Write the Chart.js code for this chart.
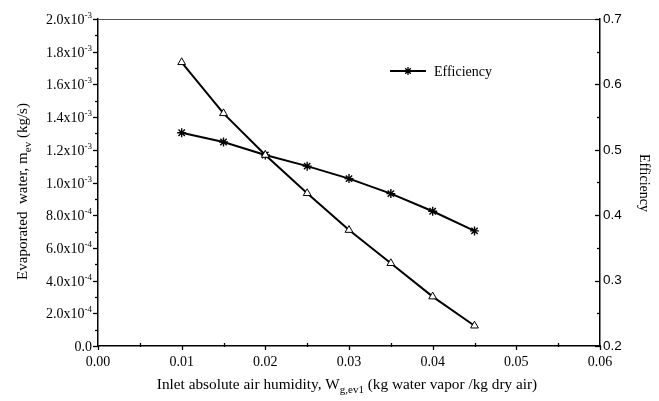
<!DOCTYPE html>
<html>
<head>
<meta charset="utf-8">
<script src="https://cdn.jsdelivr.net/npm/chart.js@4.4.1/dist/chart.umd.min.js"></script>
<style>
html,body{margin:0;padding:0;background:#fff;}
#wrap{width:659px;height:401px;position:relative;}
</style>
</head>
<body>
<div id="wrap"><canvas id="c" width="659" height="401"></canvas></div>
<script>
// ---- data ----
const humidity = [0.010, 0.015, 0.020, 0.025, 0.030, 0.035, 0.040, 0.045];
const evaporated = [1.735e-3, 1.423e-3, 1.168e-3, 0.934e-3, 0.709e-3, 0.506e-3, 0.302e-3, 0.124e-3];
const efficiency = [0.526, 0.512, 0.492, 0.475, 0.456, 0.433, 0.406, 0.376];

const xTickValues = [0, 0.01, 0.02, 0.03, 0.04, 0.05, 0.06];
const xTickLabels = ["0.00", "0.01", "0.02", "0.03", "0.04", "0.05", "0.06"];
const leftTickValues = [0, 2e-4, 4e-4, 6e-4, 8e-4, 1.0e-3, 1.2e-3, 1.4e-3, 1.6e-3, 1.8e-3, 2.0e-3];
const leftTickMantissas = ["0.0", "2.0x10", "4.0x10", "6.0x10", "8.0x10", "1.0x10", "1.2x10", "1.4x10", "1.6x10", "1.8x10", "2.0x10"];
const leftTickExponents = ["", "-4", "-4", "-4", "-4", "-3", "-3", "-3", "-3", "-3", "-3"];
const rightTickValues = [0.2, 0.3, 0.4, 0.5, 0.6, 0.7];
const rightTickLabels = ["0.2", "0.3", "0.4", "0.5", "0.6", "0.7"];
const legendLabel = "Efficiency";

const SERIF = '"Liberation Serif", "Times New Roman", serif';
const SANS = '"Liberation Sans", Arial, sans-serif';

function richWidth(ctx, parts) {
  let w = 0;
  for (const p of parts) { ctx.font = p.size + 'px ' + SERIF; w += ctx.measureText(p.t).width; }
  return w;
}
function drawRich(ctx, parts, x, y, align) {
  const w = richWidth(ctx, parts);
  let cx = align === 'right' ? x - w : (align === 'center' ? x - w / 2 : x);
  ctx.textAlign = 'left';
  ctx.textBaseline = 'alphabetic';
  for (const p of parts) {
    ctx.font = p.size + 'px ' + SERIF;
    ctx.fillText(p.t, cx, y + (p.dy || 0));
    cx += ctx.measureText(p.t).width;
  }
}

const decor = {
  id: 'decor',
  afterDraw(chart) {
    const ctx = chart.ctx;
    const a = chart.chartArea;
    const xs = chart.scales.x, ys = chart.scales.y, y1 = chart.scales.y1;
    ctx.save();
    ctx.fillStyle = '#000';
    // top border
    ctx.strokeStyle = '#555';
    ctx.lineWidth = 1;
    ctx.beginPath(); ctx.moveTo(a.left, a.top + 0.5); ctx.lineTo(a.right, a.top + 0.5); ctx.stroke();
    ctx.strokeStyle = '#000';
    ctx.lineWidth = 1.3;
    // x ticks
    for (let i = 0; i <= 12; i++) {
      const v = i * 0.005;
      const px = Math.round(xs.getPixelForValue(v)) + 0.5;
      ctx.beginPath();
      if (i % 2 === 0) { ctx.moveTo(px, a.bottom); ctx.lineTo(px, a.bottom + 4); }
      else { ctx.moveTo(px, a.bottom - 3); ctx.lineTo(px, a.bottom + 1); }
      ctx.stroke();
    }
    // left ticks
    for (let i = 0; i <= 20; i++) {
      const v = i * 1e-4;
      const py = Math.round(ys.getPixelForValue(v)) + 0.5;
      ctx.beginPath();
      ctx.moveTo(a.left, py); ctx.lineTo(a.left - (i % 2 === 0 ? 5 : 3), py);
      ctx.stroke();
    }
    // right ticks
    for (let i = 0; i <= 10; i++) {
      const v = 0.2 + i * 0.05;
      const py = Math.round(y1.getPixelForValue(v)) + 0.5;
      ctx.beginPath();
      ctx.moveTo(a.right, py); ctx.lineTo(a.right - (i % 2 === 0 ? 5 : 3), py);
      ctx.stroke();
    }
    // x tick labels
    ctx.font = '14px ' + SERIF;
    ctx.textAlign = 'center';
    ctx.textBaseline = 'alphabetic';
    xTickValues.forEach((v, i) => {
      ctx.fillText(xTickLabels[i], xs.getPixelForValue(v), a.bottom + 20);
    });
    // left tick labels
    leftTickValues.forEach((v, i) => {
      const py = ys.getPixelForValue(v);
      const parts = [{ t: leftTickMantissas[i], size: 14 }];
      if (leftTickExponents[i]) parts.push({ t: leftTickExponents[i], size: 9, dy: -6 });
      drawRich(ctx, parts, a.left - 6, py + 5, 'right');
    });
    // right tick labels
    ctx.font = '13.5px ' + SANS;
    ctx.textAlign = 'left';
    ctx.textBaseline = 'middle';
    rightTickValues.forEach((v, i) => {
      ctx.fillText(rightTickLabels[i], a.right + 3, y1.getPixelForValue(v));
    });
    // x title
    drawRich(ctx, [
      { t: 'Inlet absolute air humidity, W', size: 15.3 },
      { t: 'g,ev1', size: 11, dy: 4 },
      { t: ' (kg water vapor /kg dry air)', size: 15.3 }
    ], (a.left + a.right) / 2 - 2, 389, 'center');
    // left title
    ctx.save();
    ctx.translate(27, (a.top + a.bottom) / 2 + 9);
    ctx.rotate(-Math.PI / 2);
    drawRich(ctx, [
      { t: 'Evaporated  water, m', size: 15 },
      { t: 'ev', size: 11, dy: 4 },
      { t: ' (kg/s)', size: 15 }
    ], 0, 0, 'center');
    ctx.restore();
    // right title
    ctx.save();
    ctx.translate(640, 183);
    ctx.rotate(Math.PI / 2);
    drawRich(ctx, [{ t: 'Efficiency', size: 14 }], 0, 0, 'center');
    ctx.restore();
    // legend
    const lx = 390, ly = 71;
    ctx.lineWidth = 2;
    ctx.beginPath(); ctx.moveTo(lx, ly); ctx.lineTo(lx + 36, ly); ctx.stroke();
    ctx.lineWidth = 1.3;
    const r = 4;
    ctx.beginPath();
    for (let k = 0; k < 4; k++) {
      const ang = k * Math.PI / 4;
      ctx.moveTo(lx + 18 - r * Math.cos(ang), ly - r * Math.sin(ang));
      ctx.lineTo(lx + 18 + r * Math.cos(ang), ly + r * Math.sin(ang));
    }
    ctx.stroke();
    drawRich(ctx, [{ t: legendLabel, size: 14 }], lx + 44, ly + 5, 'left');
    ctx.restore();
  }
};

new Chart(document.getElementById('c'), {
  type: 'line',
  data: {
    datasets: [
      {
        label: 'Evaporated water',
        data: humidity.map((x, i) => ({ x: x, y: evaporated[i] })),
        yAxisID: 'y',
        borderColor: '#000',
        borderWidth: 2,
        pointStyle: 'triangle',
        pointRadius: 4.5,
        pointBackgroundColor: '#fff',
        pointBorderColor: '#000',
        pointBorderWidth: 1,
        tension: 0
      },
      {
        label: legendLabel,
        data: humidity.map((x, i) => ({ x: x, y: efficiency[i] })),
        yAxisID: 'y1',
        borderColor: '#000',
        borderWidth: 2,
        pointStyle: 'star',
        pointRadius: 4.5,
        pointBackgroundColor: '#000',
        pointBorderColor: '#000',
        pointBorderWidth: 1.4,
        tension: 0
      }
    ]
  },
  options: {
    responsive: false,
    animation: false,
    layout: { padding: { left: 98, right: 59, top: 19, bottom: 55 } },
    plugins: { legend: { display: false }, tooltip: { enabled: false } },
    scales: {
      x: {
        type: 'linear', min: 0, max: 0.06,
        grid: { display: false, drawTicks: false },
        ticks: { display: false },
        border: { display: true, color: '#000', width: 1.5 }
      },
      y: {
        type: 'linear', position: 'left', min: 0, max: 2.0e-3,
        grid: { display: false, drawTicks: false },
        ticks: { display: false },
        border: { display: true, color: '#000', width: 1.5 }
      },
      y1: {
        type: 'linear', position: 'right', min: 0.2, max: 0.7,
        grid: { display: false, drawTicks: false },
        ticks: { display: false },
        border: { display: true, color: '#000', width: 1.5 }
      }
    }
  },
  plugins: [decor]
});
</script>
</body>
</html>
